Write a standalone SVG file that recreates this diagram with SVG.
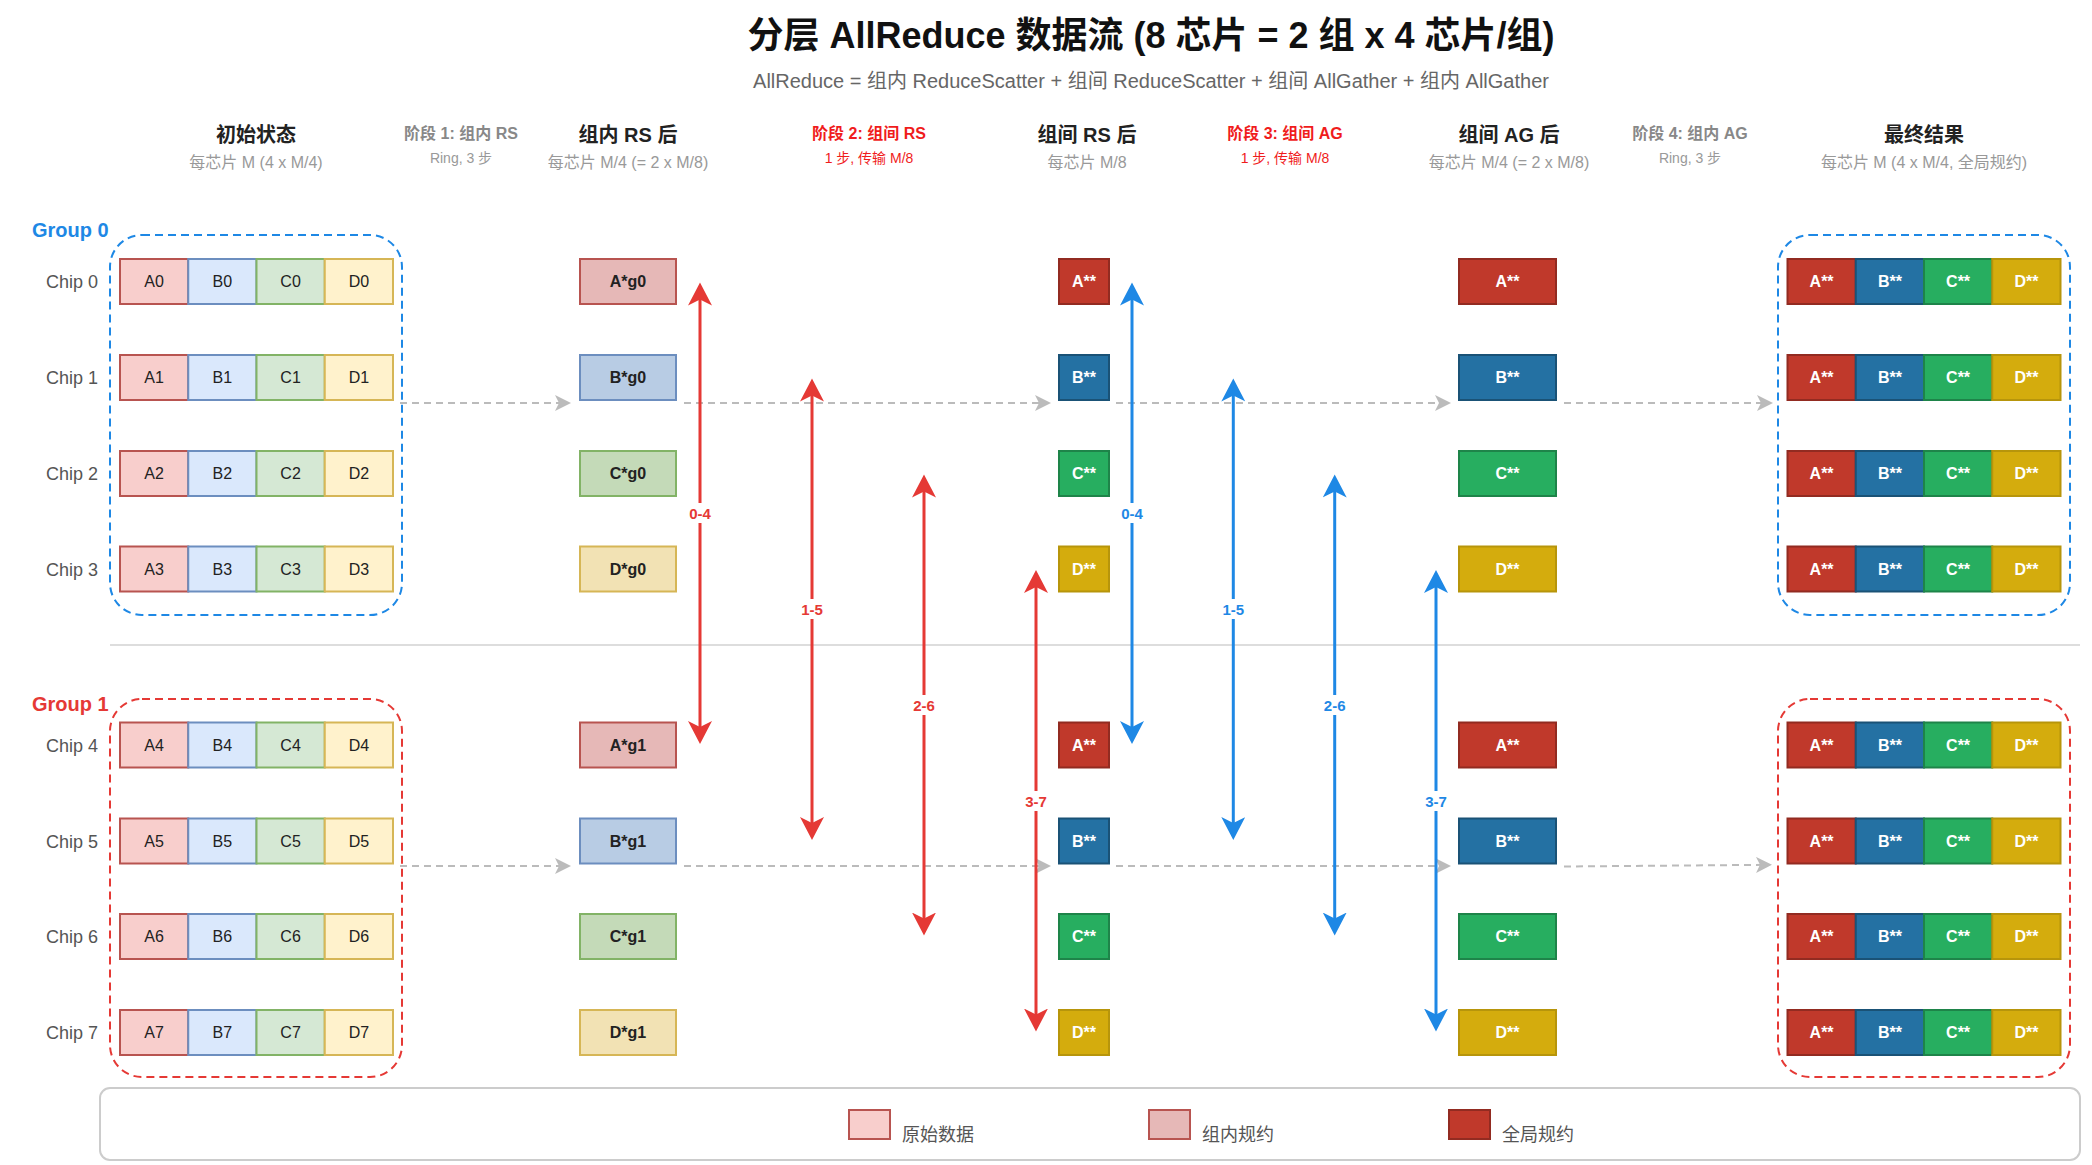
<svg xmlns="http://www.w3.org/2000/svg" width="2092" height="1165" viewBox="0 0 2092 1165">
<style>
text{font-family:"Liberation Sans","Noto Sans CJK SC",Arial,sans-serif}
.title{font-size:36px;font-weight:bold;fill:#111;text-anchor:middle}
.subtitle{font-size:20px;fill:#666;text-anchor:middle}
.hd{font-size:20px;font-weight:bold;fill:#222;text-anchor:middle}
.hs{font-size:16px;fill:#999;text-anchor:middle}
.ph{font-size:16px;font-weight:bold;fill:#888;text-anchor:middle}
.ps{font-size:14px;fill:#999;text-anchor:middle}
.phr{font-size:16px;font-weight:bold;fill:#f01c1c;text-anchor:middle}
.psr{font-size:14px;fill:#f01c1c;text-anchor:middle}
.chip{font-size:18px;fill:#555;text-anchor:end}
.grp{font-size:20px;font-weight:bold}
.ct{font-size:16px;fill:#222;text-anchor:middle}
.bt{font-size:16px;font-weight:bold;fill:#222;text-anchor:middle}
.wt{font-size:16px;font-weight:bold;fill:#fff;text-anchor:middle}
.lt{font-size:18px;fill:#555}
.al{font-size:15px;font-weight:bold;text-anchor:middle}
.a0{fill:#f8cecc;stroke:#b85450;stroke-width:2}
.b0{fill:#dae8fc;stroke:#6c8ebf;stroke-width:2}
.c0{fill:#d5e8d4;stroke:#82b366;stroke-width:2}
.d0{fill:#fff2cc;stroke:#d6b656;stroke-width:2}
.a1{fill:#e6b8b7;stroke:#b85450;stroke-width:2}
.b1{fill:#b8cce4;stroke:#6c8ebf;stroke-width:2}
.c1{fill:#c4dab8;stroke:#82b366;stroke-width:2}
.d1{fill:#f2e2b4;stroke:#d6b656;stroke-width:2}
.a2{fill:#c0392b;stroke:#922b21;stroke-width:2}
.b2{fill:#2471a3;stroke:#1a5276;stroke-width:2}
.c2{fill:#27ae60;stroke:#1e8449;stroke-width:2}
.d2{fill:#d4ac0d;stroke:#b7950b;stroke-width:2}
.gb{fill:none;stroke:#1e88e5;stroke-width:2;stroke-dasharray:8 5}
.gr{fill:none;stroke:#e53935;stroke-width:2;stroke-dasharray:8 5}
.flow{fill:none;stroke:#bbb;stroke-width:2;stroke-dasharray:7 5;marker-end:url(#mg)}
.ra{stroke:#e53935;stroke-width:3;marker-start:url(#mr);marker-end:url(#mr)}
.ba{stroke:#1e88e5;stroke-width:3;marker-start:url(#mb);marker-end:url(#mb)}
</style>
<defs>
<marker id="mg" viewBox="0 0 16 16" refX="10" refY="8" markerWidth="16" markerHeight="16" markerUnits="userSpaceOnUse" orient="auto"><path d="M0,0 L16,8 L0,16 L4,8 Z" fill="#bbb"/></marker>
<marker id="mr" viewBox="0 0 24 24" refX="15" refY="12" markerWidth="24" markerHeight="24" markerUnits="userSpaceOnUse" orient="auto-start-reverse"><path d="M0,0 L23,12 L0,24 L6,12 Z" fill="#e53935"/></marker>
<marker id="mb" viewBox="0 0 24 24" refX="15" refY="12" markerWidth="24" markerHeight="24" markerUnits="userSpaceOnUse" orient="auto-start-reverse"><path d="M0,0 L23,12 L0,24 L6,12 Z" fill="#1e88e5"/></marker>
</defs>
<rect width="2092" height="1165" fill="#fff"/>

<g id="header">
<text class="title" x="1151" y="48">分层 AllReduce 数据流 (8 芯片 = 2 组 x 4 芯片/组)</text>
<text class="subtitle" x="1151" y="88">AllReduce = 组内 ReduceScatter + 组间 ReduceScatter + 组间 AllGather + 组内 AllGather</text>
<text class="hd" x="256" y="142">初始状态</text><text class="hs" x="256" y="168">每芯片 M (4 x M/4)</text>
<text class="ph" x="461" y="139">阶段 1: 组内 RS</text><text class="ps" x="461" y="163">Ring, 3 步</text>
<text class="hd" x="628" y="142">组内 RS 后</text><text class="hs" x="628" y="168">每芯片 M/4 (= 2 x M/8)</text>
<text class="phr" x="869" y="139">阶段 2: 组间 RS</text><text class="psr" x="869" y="163">1 步, 传输 M/8</text>
<text class="hd" x="1087" y="142">组间 RS 后</text><text class="hs" x="1087" y="168">每芯片 M/8</text>
<text class="phr" x="1285" y="139">阶段 3: 组间 AG</text><text class="psr" x="1285" y="163">1 步, 传输 M/8</text>
<text class="hd" x="1509" y="142">组间 AG 后</text><text class="hs" x="1509" y="168">每芯片 M/4 (= 2 x M/8)</text>
<text class="ph" x="1690" y="139">阶段 4: 组内 AG</text><text class="ps" x="1690" y="163">Ring, 3 步</text>
<text class="hd" x="1924" y="142">最终结果</text><text class="hs" x="1924" y="168">每芯片 M (4 x M/4, 全局规约)</text>
</g>

<g id="groups">
<rect class="gb" x="110" y="235" width="292" height="380" rx="32"/>
<rect class="gr" x="110" y="699" width="292" height="378" rx="32"/>
<rect class="gb" x="1778" y="235" width="292" height="380" rx="32"/>
<rect class="gr" x="1778" y="699" width="292" height="378" rx="32"/>
<text class="grp" x="32" y="237" fill="#1e88e5">Group 0</text>
<text class="grp" x="32" y="711" fill="#e53935">Group 1</text>
<line x1="110" y1="645" x2="2080" y2="645" stroke="#ddd" stroke-width="2"/>
</g>

<g id="connectors">
<line class="flow" x1="400" y1="403" x2="565" y2="403"/>
<line class="flow" x1="684" y1="403" x2="1045" y2="403"/>
<line class="flow" x1="1116" y1="403" x2="1445" y2="403"/>
<line class="flow" x1="1564" y1="403" x2="1767" y2="403"/>
<line class="flow" x1="400" y1="866" x2="565" y2="866"/>
<line class="flow" x1="684" y1="866" x2="1045" y2="866"/>
<line class="flow" x1="1116" y1="866" x2="1445" y2="866"/>
<line class="flow" x1="1564" y1="866.5" x2="1766" y2="864.8"/>

<line class="ra" x1="700" y1="290.5" x2="700" y2="736"/>
<line class="ra" x1="812" y1="386.5" x2="812" y2="832"/>
<line class="ra" x1="924" y1="482.5" x2="924" y2="927.5"/>
<line class="ra" x1="1036" y1="578" x2="1036" y2="1023.5"/>
<line class="ba" x1="1132" y1="290.5" x2="1132" y2="736"/>
<line class="ba" x1="1233.3" y1="386.5" x2="1233.3" y2="832"/>
<line class="ba" x1="1334.7" y1="482.5" x2="1334.7" y2="927.5"/>
<line class="ba" x1="1436" y1="578" x2="1436" y2="1023.5"/>

<g fill="#fff">
<rect x="685" y="503" width="30" height="20"/><rect x="797" y="599" width="30" height="20"/>
<rect x="909" y="695" width="30" height="20"/><rect x="1021" y="791" width="30" height="20"/>
<rect x="1117" y="503" width="30" height="20"/><rect x="1218.3" y="599" width="30" height="20"/>
<rect x="1319.7" y="695" width="30" height="20"/><rect x="1421" y="791" width="30" height="20"/>
</g>
<g class="al" fill="#e53935">
<text x="700" y="518.5">0-4</text><text x="812" y="614.5">1-5</text>
<text x="924" y="710.5">2-6</text><text x="1036" y="806.5">3-7</text>
</g>
<g class="al" fill="#1e88e5">
<text x="1132" y="518.5">0-4</text><text x="1233.3" y="614.5">1-5</text>
<text x="1334.7" y="710.5">2-6</text><text x="1436" y="806.5">3-7</text>
</g>
</g>

<g id="chip0"><text class="chip" x="98" y="288">Chip 0</text>
<rect class="a0" x="120" y="259" width="68.25" height="45"/><rect class="b0" x="188.25" y="259" width="68.25" height="45"/><rect class="c0" x="256.5" y="259" width="68.25" height="45"/><rect class="d0" x="324.75" y="259" width="68.25" height="45"/>
<text class="ct" x="154" y="287">A0</text><text class="ct" x="222.4" y="287">B0</text><text class="ct" x="290.6" y="287">C0</text><text class="ct" x="358.9" y="287">D0</text></g>
<g id="chip1"><text class="chip" x="98" y="384">Chip 1</text>
<rect class="a0" x="120" y="355" width="68.25" height="45"/><rect class="b0" x="188.25" y="355" width="68.25" height="45"/><rect class="c0" x="256.5" y="355" width="68.25" height="45"/><rect class="d0" x="324.75" y="355" width="68.25" height="45"/>
<text class="ct" x="154" y="383">A1</text><text class="ct" x="222.4" y="383">B1</text><text class="ct" x="290.6" y="383">C1</text><text class="ct" x="358.9" y="383">D1</text></g>
<g id="chip2"><text class="chip" x="98" y="480">Chip 2</text>
<rect class="a0" x="120" y="451" width="68.25" height="45"/><rect class="b0" x="188.25" y="451" width="68.25" height="45"/><rect class="c0" x="256.5" y="451" width="68.25" height="45"/><rect class="d0" x="324.75" y="451" width="68.25" height="45"/>
<text class="ct" x="154" y="479">A2</text><text class="ct" x="222.4" y="479">B2</text><text class="ct" x="290.6" y="479">C2</text><text class="ct" x="358.9" y="479">D2</text></g>
<g id="chip3"><text class="chip" x="98" y="575.5">Chip 3</text>
<rect class="a0" x="120" y="546.5" width="68.25" height="45"/><rect class="b0" x="188.25" y="546.5" width="68.25" height="45"/><rect class="c0" x="256.5" y="546.5" width="68.25" height="45"/><rect class="d0" x="324.75" y="546.5" width="68.25" height="45"/>
<text class="ct" x="154" y="574.5">A3</text><text class="ct" x="222.4" y="574.5">B3</text><text class="ct" x="290.6" y="574.5">C3</text><text class="ct" x="358.9" y="574.5">D3</text></g>
<g id="chip4"><text class="chip" x="98" y="751.5">Chip 4</text>
<rect class="a0" x="120" y="722.5" width="68.25" height="45"/><rect class="b0" x="188.25" y="722.5" width="68.25" height="45"/><rect class="c0" x="256.5" y="722.5" width="68.25" height="45"/><rect class="d0" x="324.75" y="722.5" width="68.25" height="45"/>
<text class="ct" x="154" y="750.5">A4</text><text class="ct" x="222.4" y="750.5">B4</text><text class="ct" x="290.6" y="750.5">C4</text><text class="ct" x="358.9" y="750.5">D4</text></g>
<g id="chip5"><text class="chip" x="98" y="847.5">Chip 5</text>
<rect class="a0" x="120" y="818.5" width="68.25" height="45"/><rect class="b0" x="188.25" y="818.5" width="68.25" height="45"/><rect class="c0" x="256.5" y="818.5" width="68.25" height="45"/><rect class="d0" x="324.75" y="818.5" width="68.25" height="45"/>
<text class="ct" x="154" y="846.5">A5</text><text class="ct" x="222.4" y="846.5">B5</text><text class="ct" x="290.6" y="846.5">C5</text><text class="ct" x="358.9" y="846.5">D5</text></g>
<g id="chip6"><text class="chip" x="98" y="943">Chip 6</text>
<rect class="a0" x="120" y="914" width="68.25" height="45"/><rect class="b0" x="188.25" y="914" width="68.25" height="45"/><rect class="c0" x="256.5" y="914" width="68.25" height="45"/><rect class="d0" x="324.75" y="914" width="68.25" height="45"/>
<text class="ct" x="154" y="942">A6</text><text class="ct" x="222.4" y="942">B6</text><text class="ct" x="290.6" y="942">C6</text><text class="ct" x="358.9" y="942">D6</text></g>
<g id="chip7"><text class="chip" x="98" y="1039">Chip 7</text>
<rect class="a0" x="120" y="1010" width="68.25" height="45"/><rect class="b0" x="188.25" y="1010" width="68.25" height="45"/><rect class="c0" x="256.5" y="1010" width="68.25" height="45"/><rect class="d0" x="324.75" y="1010" width="68.25" height="45"/>
<text class="ct" x="154" y="1038">A7</text><text class="ct" x="222.4" y="1038">B7</text><text class="ct" x="290.6" y="1038">C7</text><text class="ct" x="358.9" y="1038">D7</text></g>

<g id="intra-rs">
<rect class="a1" x="580" y="259" width="96" height="45"/><text class="bt" x="628" y="287">A*g0</text>
<rect class="b1" x="580" y="355" width="96" height="45"/><text class="bt" x="628" y="383">B*g0</text>
<rect class="c1" x="580" y="451" width="96" height="45"/><text class="bt" x="628" y="479">C*g0</text>
<rect class="d1" x="580" y="546.5" width="96" height="45"/><text class="bt" x="628" y="574.5">D*g0</text>
<rect class="a1" x="580" y="722.5" width="96" height="45"/><text class="bt" x="628" y="750.5">A*g1</text>
<rect class="b1" x="580" y="818.5" width="96" height="45"/><text class="bt" x="628" y="846.5">B*g1</text>
<rect class="c1" x="580" y="914" width="96" height="45"/><text class="bt" x="628" y="942">C*g1</text>
<rect class="d1" x="580" y="1010" width="96" height="45"/><text class="bt" x="628" y="1038">D*g1</text>
</g>

<g id="inter-rs">
<rect class="a2" x="1059" y="259" width="50" height="45"/><text class="wt" x="1084" y="287">A**</text>
<rect class="b2" x="1059" y="355" width="50" height="45"/><text class="wt" x="1084" y="383">B**</text>
<rect class="c2" x="1059" y="451" width="50" height="45"/><text class="wt" x="1084" y="479">C**</text>
<rect class="d2" x="1059" y="546.5" width="50" height="45"/><text class="wt" x="1084" y="574.5">D**</text>
<rect class="a2" x="1059" y="722.5" width="50" height="45"/><text class="wt" x="1084" y="750.5">A**</text>
<rect class="b2" x="1059" y="818.5" width="50" height="45"/><text class="wt" x="1084" y="846.5">B**</text>
<rect class="c2" x="1059" y="914" width="50" height="45"/><text class="wt" x="1084" y="942">C**</text>
<rect class="d2" x="1059" y="1010" width="50" height="45"/><text class="wt" x="1084" y="1038">D**</text>
</g>

<g id="inter-ag">
<rect class="a2" x="1459" y="259" width="97" height="45"/><text class="wt" x="1507.5" y="287">A**</text>
<rect class="b2" x="1459" y="355" width="97" height="45"/><text class="wt" x="1507.5" y="383">B**</text>
<rect class="c2" x="1459" y="451" width="97" height="45"/><text class="wt" x="1507.5" y="479">C**</text>
<rect class="d2" x="1459" y="546.5" width="97" height="45"/><text class="wt" x="1507.5" y="574.5">D**</text>
<rect class="a2" x="1459" y="722.5" width="97" height="45"/><text class="wt" x="1507.5" y="750.5">A**</text>
<rect class="b2" x="1459" y="818.5" width="97" height="45"/><text class="wt" x="1507.5" y="846.5">B**</text>
<rect class="c2" x="1459" y="914" width="97" height="45"/><text class="wt" x="1507.5" y="942">C**</text>
<rect class="d2" x="1459" y="1010" width="97" height="45"/><text class="wt" x="1507.5" y="1038">D**</text>
</g>

<g id="final">
<g id="final-0"><rect class="a2" x="1787.5" y="259" width="68.25" height="45"/><rect class="b2" x="1855.75" y="259" width="68.25" height="45"/><rect class="c2" x="1924" y="259" width="68.25" height="45"/><rect class="d2" x="1992.25" y="259" width="68.25" height="45"/>
<text class="wt" x="1821.6" y="287">A**</text><text class="wt" x="1889.9" y="287">B**</text><text class="wt" x="1958.1" y="287">C**</text><text class="wt" x="2026.4" y="287">D**</text></g>
<g id="final-1"><rect class="a2" x="1787.5" y="355" width="68.25" height="45"/><rect class="b2" x="1855.75" y="355" width="68.25" height="45"/><rect class="c2" x="1924" y="355" width="68.25" height="45"/><rect class="d2" x="1992.25" y="355" width="68.25" height="45"/>
<text class="wt" x="1821.6" y="383">A**</text><text class="wt" x="1889.9" y="383">B**</text><text class="wt" x="1958.1" y="383">C**</text><text class="wt" x="2026.4" y="383">D**</text></g>
<g id="final-2"><rect class="a2" x="1787.5" y="451" width="68.25" height="45"/><rect class="b2" x="1855.75" y="451" width="68.25" height="45"/><rect class="c2" x="1924" y="451" width="68.25" height="45"/><rect class="d2" x="1992.25" y="451" width="68.25" height="45"/>
<text class="wt" x="1821.6" y="479">A**</text><text class="wt" x="1889.9" y="479">B**</text><text class="wt" x="1958.1" y="479">C**</text><text class="wt" x="2026.4" y="479">D**</text></g>
<g id="final-3"><rect class="a2" x="1787.5" y="546.5" width="68.25" height="45"/><rect class="b2" x="1855.75" y="546.5" width="68.25" height="45"/><rect class="c2" x="1924" y="546.5" width="68.25" height="45"/><rect class="d2" x="1992.25" y="546.5" width="68.25" height="45"/>
<text class="wt" x="1821.6" y="574.5">A**</text><text class="wt" x="1889.9" y="574.5">B**</text><text class="wt" x="1958.1" y="574.5">C**</text><text class="wt" x="2026.4" y="574.5">D**</text></g>
<g id="final-4"><rect class="a2" x="1787.5" y="722.5" width="68.25" height="45"/><rect class="b2" x="1855.75" y="722.5" width="68.25" height="45"/><rect class="c2" x="1924" y="722.5" width="68.25" height="45"/><rect class="d2" x="1992.25" y="722.5" width="68.25" height="45"/>
<text class="wt" x="1821.6" y="750.5">A**</text><text class="wt" x="1889.9" y="750.5">B**</text><text class="wt" x="1958.1" y="750.5">C**</text><text class="wt" x="2026.4" y="750.5">D**</text></g>
<g id="final-5"><rect class="a2" x="1787.5" y="818.5" width="68.25" height="45"/><rect class="b2" x="1855.75" y="818.5" width="68.25" height="45"/><rect class="c2" x="1924" y="818.5" width="68.25" height="45"/><rect class="d2" x="1992.25" y="818.5" width="68.25" height="45"/>
<text class="wt" x="1821.6" y="846.5">A**</text><text class="wt" x="1889.9" y="846.5">B**</text><text class="wt" x="1958.1" y="846.5">C**</text><text class="wt" x="2026.4" y="846.5">D**</text></g>
<g id="final-6"><rect class="a2" x="1787.5" y="914" width="68.25" height="45"/><rect class="b2" x="1855.75" y="914" width="68.25" height="45"/><rect class="c2" x="1924" y="914" width="68.25" height="45"/><rect class="d2" x="1992.25" y="914" width="68.25" height="45"/>
<text class="wt" x="1821.6" y="942">A**</text><text class="wt" x="1889.9" y="942">B**</text><text class="wt" x="1958.1" y="942">C**</text><text class="wt" x="2026.4" y="942">D**</text></g>
<g id="final-7"><rect class="a2" x="1787.5" y="1010" width="68.25" height="45"/><rect class="b2" x="1855.75" y="1010" width="68.25" height="45"/><rect class="c2" x="1924" y="1010" width="68.25" height="45"/><rect class="d2" x="1992.25" y="1010" width="68.25" height="45"/>
<text class="wt" x="1821.6" y="1038">A**</text><text class="wt" x="1889.9" y="1038">B**</text><text class="wt" x="1958.1" y="1038">C**</text><text class="wt" x="2026.4" y="1038">D**</text></g>
</g>

<g id="legend">
<rect x="100" y="1088" width="1980" height="72" rx="10" fill="#fff" stroke="#ccc" stroke-width="2"/>
<rect class="a0" x="849" y="1110" width="41" height="29"/><text class="lt" x="902" y="1141">原始数据</text>
<rect class="a1" x="1149" y="1110" width="41" height="29"/><text class="lt" x="1202" y="1141">组内规约</text>
<rect class="a2" x="1449" y="1110" width="41" height="29"/><text class="lt" x="1502" y="1141">全局规约</text>
</g>
</svg>
